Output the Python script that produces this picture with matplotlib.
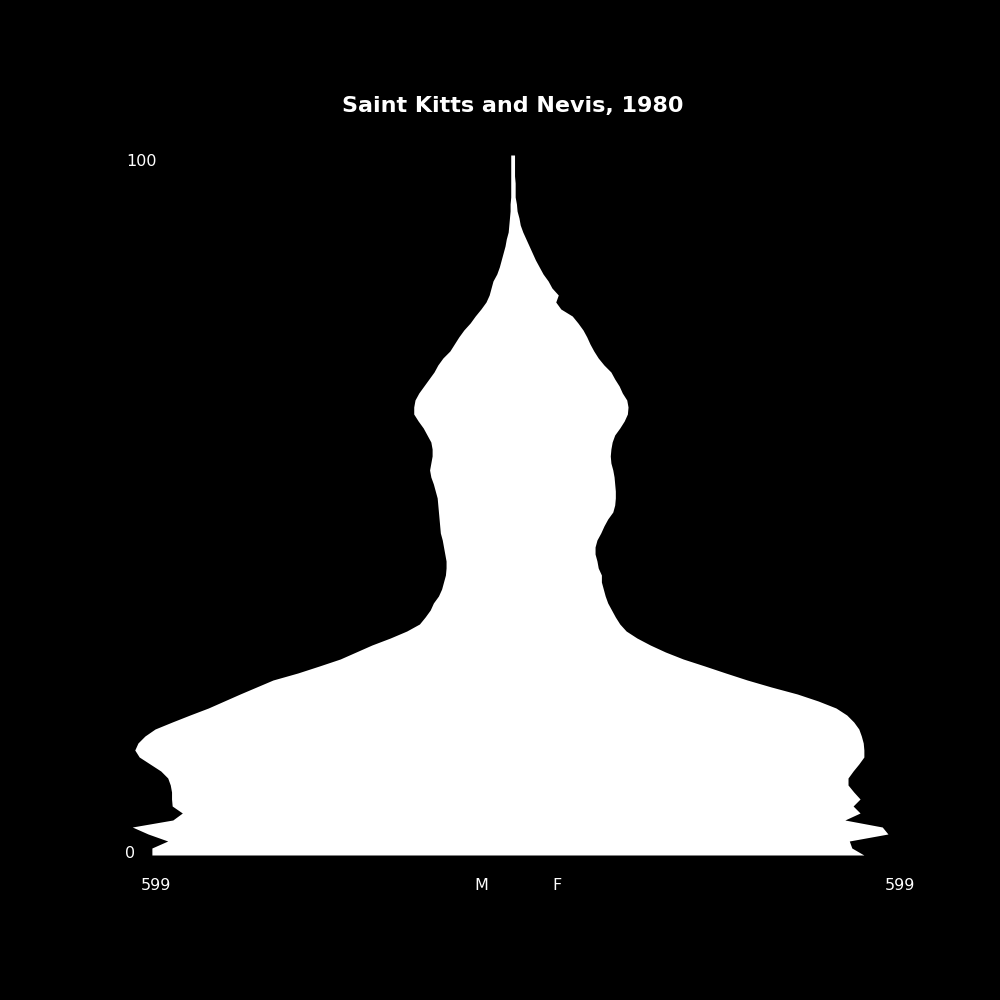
import numpy as np
import matplotlib
matplotlib.use('Agg')
import matplotlib.pyplot as plt

ages = np.arange(0, 101)

male = [568, 568, 543, 574, 599, 535, 520, 536, 537, 537,
        539, 543, 554, 571, 588, 595, 590, 579, 563, 536,
        508, 479, 454, 429, 403, 377, 338, 304, 271, 246,
        221, 192, 166, 146, 137, 129, 124, 116, 111, 108,
        105, 104, 104, 106, 108, 110, 113, 114, 115, 116,
        117, 118, 121, 124, 128, 130, 128, 126, 126, 128,
        134, 140, 148, 155, 155, 153, 147, 139, 131, 123,
        117, 109, 98, 91, 84, 76, 66, 58, 49, 41,
        36, 33, 30, 24, 20, 17, 14, 11, 9, 6,
        5, 4, 3, 3, 2, 2, 2, 2, 2, 2, 2]

female = [555, 536, 532, 593, 584, 525, 549, 538, 549, 539,
          530, 530, 538, 547, 555, 555, 554, 551, 547, 539,
          528, 511, 483, 450, 409, 371, 337, 304, 270, 242,
          218, 197, 180, 170, 163, 157, 151, 147, 144, 141,
          141, 136, 134, 131, 131, 134, 140, 145, 151, 159,
          162, 163, 163, 162, 161, 159, 156, 155, 156, 158,
          162, 170, 177, 182, 183, 181, 174, 169, 162, 156,
          145, 136, 129, 123, 118, 112, 104, 95, 77, 69,
          73, 63, 57, 49, 43, 37, 32, 27, 22, 17,
          13, 11, 8, 7, 5, 5, 5, 4, 4, 4, 4]

title = 'Saint Kitts and Nevis, 1980'
max_label = '599'

male = np.array(male)
female = np.array(female)

px = 0.634  # pixels per person
half = 400 / px

fig = plt.figure(figsize=(10, 10), dpi=100, facecolor='black')
ax = fig.add_axes([0.112, 0.145, 0.8, 0.7])
ax.set_facecolor('black')
ax.fill_betweenx(ages, -male, female, color='white', linewidth=0)
ax.set_xlim(-half, half)
ax.set_ylim(0, 100)
ax.axis('off')

fig.text(0.5125, 0.8883, title, color='white', fontsize=16,
         fontweight='bold', ha='center', va='baseline')
fig.text(0.141, 0.838, '100', color='white', fontsize=11.5, ha='center', va='center')
fig.text(0.130, 0.146, '0', color='white', fontsize=11.5, ha='center', va='center')
fig.text(0.156, 0.114, max_label, color='white', fontsize=11.5, ha='center', va='center')
fig.text(0.900, 0.114, max_label, color='white', fontsize=11.5, ha='center', va='center')
fig.text(0.481, 0.114, 'M', color='white', fontsize=11.5, ha='center', va='center')
fig.text(0.557, 0.114, 'F', color='white', fontsize=11.5, ha='center', va='center')

fig.savefig('out.png', facecolor='black')
